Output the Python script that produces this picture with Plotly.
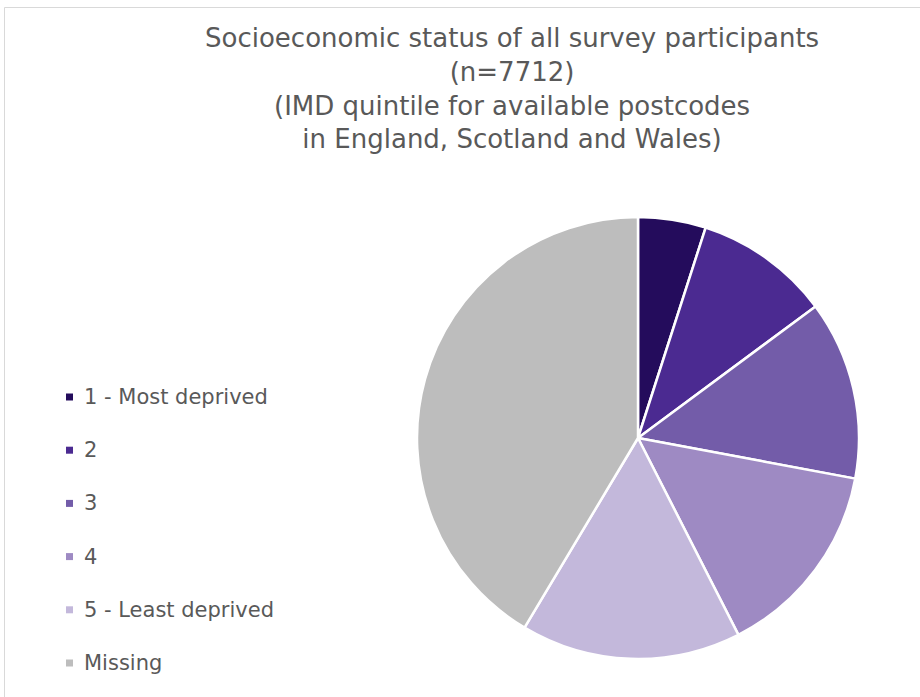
import plotly.graph_objects as go

categories = ["1 - Most deprived", "2", "3", "4", "5 - Least deprived", "Missing"]
counts = [382, 763, 1010, 1122, 1241, 3194]
colors = ["#240c5c", "#4b2a91", "#735ca9", "#9e8ac3", "#c3b8db", "#bdbdbd"]

W, H = 920, 697
cx, cy, r = 638, 438, 221
FONT = "DejaVu Sans"

fig = go.Figure()
fig.add_trace(go.Pie(
    labels=categories,
    values=counts,
    sort=False,
    direction="clockwise",
    rotation=0,
    marker=dict(colors=colors, line=dict(color="white", width=2.5)),
    textinfo="none",
    hoverinfo="label+value+percent",
    showlegend=False,
    domain=dict(x=[(cx - r) / W, (cx + r) / W], y=[1 - (cy + r) / H, 1 - (cy - r) / H]),
))

title = ("Socioeconomic status of all survey participants<br>(n=7712)<br>"
         "(IMD quintile for available postcodes<br>in England, Scotland and Wales)")
fig.add_annotation(
    text=title, x=512 / W, y=1 - 21 / H, xref="paper", yref="paper",
    xanchor="center", yanchor="top", showarrow=False, align="center",
    font=dict(family=FONT, size=26, color="#595959"),
)

# legend built from the category list
leg_top, leg_step = 397, 53.2
for i, (lab, col) in enumerate(zip(categories, colors)):
    yc = leg_top + i * leg_step
    fig.add_shape(type="rect", xref="paper", yref="paper",
                  x0=66 / W, x1=73 / W, y0=1 - (yc + 3.5) / H, y1=1 - (yc - 3.5) / H,
                  fillcolor=col, line=dict(width=0))
    fig.add_annotation(text=lab, x=82 / W, y=1 - yc / H, xref="paper", yref="paper",
                       xanchor="left", yanchor="middle", showarrow=False,
                       font=dict(family=FONT, size=21, color="#595959"))

# chart frame
fig.add_shape(type="rect", xref="paper", yref="paper",
              x0=4.5 / W, x1=1.02, y0=-0.02, y1=1 - 7.5 / H,
              line=dict(color="#d9d9d9", width=1), fillcolor="rgba(0,0,0,0)")

fig.update_layout(
    width=W, height=H,
    margin=dict(l=0, r=0, t=0, b=0),
    paper_bgcolor="white", plot_bgcolor="white",
)
fig.write_html("out.html")
